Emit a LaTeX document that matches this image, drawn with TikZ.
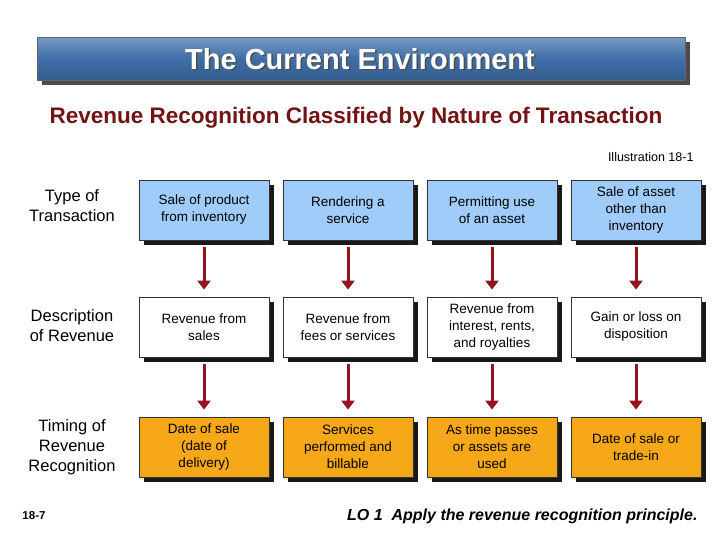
\documentclass[tikz,border=0pt]{standalone}
\usepackage{fontspec}
\setmainfont{Liberation Sans}
\usetikzlibrary{shadows,arrows.meta}
\definecolor{rowA}{RGB}{160,204,250}
\definecolor{rowC}{RGB}{246,168,24}
\definecolor{titleblue}{RGB}{62,110,168}
\definecolor{subred}{RGB}{115,20,20}
\definecolor{arr}{RGB}{150,20,30}
\tikzset{
 box/.style={draw=black!80,line width=0.8pt,minimum width=130pt,minimum height=60pt,align=center,font=\fontsize{13.5}{17}\selectfont,
   drop shadow={shadow xshift=5pt,shadow yshift=-5pt,fill=black!90,opacity=1}},
 lab/.style={align=center,font=\fontsize{16.5}{20}\selectfont},
 link/.style={arr,line width=3pt,-{Triangle[length=9pt,width=13pt]}}
}
\begin{document}
\begin{tikzpicture}[x=1pt,y=-1pt]
\useasboundingbox (0,0) rectangle (720,540);
\fill[black!70] (42,42) rectangle (690,85);
\node[draw=black!60,minimum width=648pt,minimum height=43pt,top color=titleblue!70,bottom color=titleblue!85!black,middle color=titleblue,anchor=north west] (title) at (37,37) {};
\node[text=black!70,font=\bfseries\fontsize{29}{34}\selectfont] at (361.5,60.5) {The Current Environment};
\node[text=white,font=\bfseries\fontsize{29}{34}\selectfont] (tt) at (360,59) {The Current Environment};
\node[text=subred,font=\bfseries\fontsize{22.5}{26}\selectfont] (sub) at (356,118) {Revenue Recognition Classified by Nature of Transaction};
\node[font=\fontsize{12.5}{14}\selectfont,anchor=east] (ill) at (697,157) {Illustration 18-1};
\node[lab] (l1) at (72,206) {Type of\\Transaction};
\node[lab] (l2) at (72,326) {Description\\of Revenue};
\node[lab] (l3) at (72,447) {Timing of\\Revenue\\Recognition};
\node[font=\bfseries\fontsize{11.5}{13}\selectfont] (pg) at (34,516) {18-7};
\node[font=\bfseries\itshape\fontsize{16}{19}\selectfont,anchor=east] (lo) at (701,516) {LO 1\ \ Apply the revenue recognition principle.};
\node[box,fill=rowA] (a1) at (204,210) {Sale of product\\from inventory};
\node[box,fill=rowA] (a2) at (348,210) {Rendering a\\service};
\node[box,fill=rowA] (a3) at (492,210) {Permitting use\\of an asset};
\node[box,fill=rowA] (a4) at (636,210) {Sale of asset\\other than\\inventory};
\node[box,fill=white] (b1) at (204,327) {Revenue from\\sales};
\node[box,fill=white] (b2) at (348,327) {Revenue from\\fees or services};
\node[box,fill=white] (b3) at (492,327) {Revenue from\\interest, rents,\\and royalties};
\node[box,fill=white] (b4) at (636,327) {Gain or loss on\\disposition};
\node[box,fill=rowC] (c1) at (204,447) {Date of sale\\(date of\\delivery)};
\node[box,fill=rowC] (c2) at (348,447) {Services\\performed and\\billable};
\node[box,fill=rowC] (c3) at (492,447) {As time passes\\or assets are\\used};
\node[box,fill=rowC] (c4) at (636,447) {Date of sale or\\trade-in};
\foreach \i in {1,2,3,4}{
 \draw[link] ([yshift=-7pt]a\i.south) -- ([yshift=7pt]b\i.north);
 \draw[link] ([yshift=-7pt]b\i.south) -- ([yshift=7pt]c\i.north);
}
\end{tikzpicture}
\end{document}
